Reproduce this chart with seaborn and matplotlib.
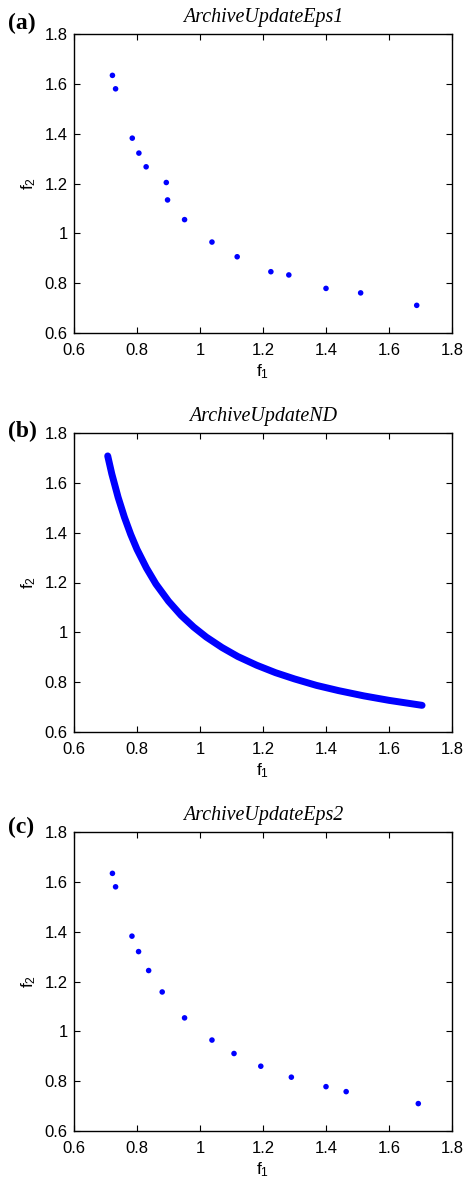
import matplotlib
matplotlib.use("Agg")
import matplotlib.pyplot as plt
import seaborn as sns
import pandas as pd

# ---- data ----
eps1_f1 = [0.722, 0.732, 0.785, 0.806, 0.829, 0.893, 0.897, 0.951, 1.038, 1.118,
           1.225, 1.282, 1.400, 1.510, 1.688]
eps1_f2 = [1.634, 1.580, 1.382, 1.322, 1.267, 1.204, 1.134, 1.055, 0.965, 0.906,
           0.846, 0.833, 0.779, 0.761, 0.711]

nd_f1 = [0.707, 0.72, 0.74, 0.76, 0.78, 0.80, 0.83, 0.86, 0.90, 0.94, 0.98, 1.02,
         1.07, 1.12, 1.18, 1.24, 1.30, 1.37, 1.44, 1.52, 1.60, 1.705]
nd_f2 = [1.708, 1.636, 1.542, 1.462, 1.393, 1.333, 1.258, 1.194, 1.125, 1.068, 1.021,
         0.981, 0.939, 0.903, 0.868, 0.838, 0.813, 0.787, 0.766, 0.745, 0.727, 0.707]

eps2_f1 = [0.722, 0.732, 0.784, 0.805, 0.837, 0.880, 0.951, 1.038, 1.108, 1.193,
           1.290, 1.400, 1.464, 1.693]
eps2_f2 = [1.634, 1.580, 1.382, 1.320, 1.244, 1.158, 1.054, 0.965, 0.911, 0.860,
           0.816, 0.778, 0.758, 0.710]

titles = ["ArchiveUpdateEps1", "ArchiveUpdateND", "ArchiveUpdateEps2"]
panel_labels = ["(a)", "(b)", "(c)"]
ticks = [0.6, 0.8, 1.0, 1.2, 1.4, 1.6, 1.8]
tick_labels = ["0.6", "0.8", "1", "1.2", "1.4", "1.6", "1.8"]

sns.set_theme(style="white")
plt.rcParams["font.family"] = ["Liberation Sans", "DejaVu Sans"]
plt.rcParams["mathtext.default"] = "regular"

fig = plt.figure(figsize=(4.72, 11.84), dpi=100)

W, H = 472.0, 1184.0
boxes = [(74, 34, 452, 333), (74, 433, 452, 732), (74, 832, 452, 1131)]
label_pos = [(8, 29.5), (8, 437), (8, 833)]

dfs = [pd.DataFrame({"f1": eps1_f1, "f2": eps1_f2}),
       pd.DataFrame({"f1": nd_f1, "f2": nd_f2}),
       pd.DataFrame({"f1": eps2_f1, "f2": eps2_f2})]

for i, (l, t, r, b) in enumerate(boxes):
    ax = fig.add_axes([l / W, 1 - b / H, (r - l) / W, (b - t) / H])
    df = dfs[i]
    if i == 1:
        sns.lineplot(data=df, x="f1", y="f2", ax=ax, sort=False, color="#0000ff",
                     linewidth=5.0, solid_capstyle="round")
    else:
        sns.scatterplot(data=df, x="f1", y="f2", ax=ax, color="#0000ff", s=16,
                        marker="o", edgecolor="none", linewidth=0)
    ax.set_xlim(0.6, 1.8)
    ax.set_ylim(0.6, 1.8)
    ax.set_xticks(ticks)
    ax.set_yticks(ticks)
    ax.set_xticklabels(tick_labels)
    ax.set_yticklabels(tick_labels)
    ax.tick_params(axis="both", which="both", direction="in", length=4, width=0.8,
                   colors="black", labelsize=12, top=True, right=True,
                   bottom=True, left=True)
    ax.tick_params(axis="x", pad=7)
    ax.tick_params(axis="y", pad=4.5)
    for sp in ax.spines.values():
        sp.set_color("black")
        sp.set_linewidth(1.0)
        sp.set_visible(True)
    ax.set_xlabel("f$_1$", fontsize=12.5, labelpad=3, color="black")
    ax.set_ylabel("f$_2$", fontsize=12.5, labelpad=5, color="black")
    ax.set_title(titles[i], fontsize=14.4, family=["Liberation Serif"], style="italic",
                 pad=8.6, color="black")
    ax.grid(False)
    lx, ly = label_pos[i]
    fig.text(lx / W, 1 - ly / H, panel_labels[i], fontsize=17, fontweight="bold",
             family=["Liberation Serif"], ha="left", va="baseline", color="black")

fig.savefig("out.png", dpi=100)
